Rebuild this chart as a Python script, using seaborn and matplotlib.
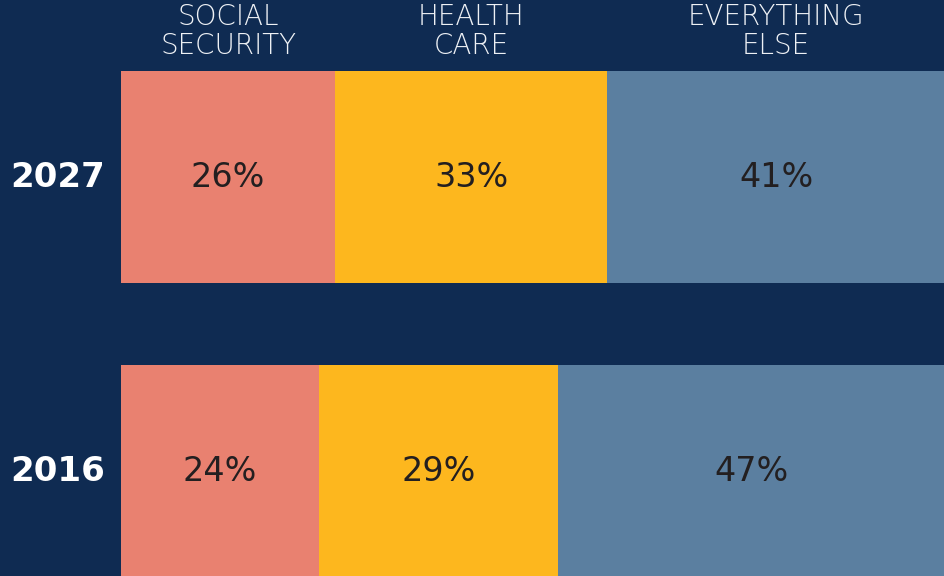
import pandas as pd
import matplotlib
matplotlib.use("Agg")
import matplotlib.pyplot as plt
import numpy as np
import seaborn as sns

years = ["2027", "2016"]
categories = ["SOCIAL\nSECURITY", "HEALTH\nCARE", "EVERYTHING\nELSE"]
social_security = [26, 24]
health_care = [33, 29]
everything_else = [41, 47]
colors = ["#e98170", "#fdb71e", "#5b7fa0"]

bg = "#0f2b52"

df = pd.DataFrame({"year": years,
                   "ss": social_security,
                   "hc": health_care,
                   "ee": everything_else})
df["cum1"] = df["ss"]
df["cum2"] = df["ss"] + df["hc"]
df["cum3"] = df["cum2"] + df["ee"]

sns.set_style("white")
plt.rcParams["font.family"] = ["DejaVu Sans"]

fig = plt.figure(figsize=(9.45, 5.76), dpi=100, facecolor=bg)
ax = fig.add_axes([121 / 945, 0, 824 / 945, 1])
ax.set_facecolor(bg)

# stacked bars: draw the running totals from the largest down
for col, c in zip(["cum3", "cum2", "cum1"], colors[::-1]):
    sns.barplot(data=df, x=col, y="year", order=years, orient="h",
                color=c, saturation=1, width=0.72, linewidth=0, ax=ax)

ax.set_xlim(0, 100)
ax.set_ylim(1.357, -0.602)
ax.set_axis_off()

# percent labels inside each segment
for i, row in df.iterrows():
    lefts = [0, row["cum1"], row["cum2"]]
    vals = [row["ss"], row["hc"], row["ee"]]
    for l, v in zip(lefts, vals):
        ax.text(l + v / 2, i, f"{v}%", ha="center", va="center",
                fontsize=24, color="#231f20")
    # year label on the left
    ax.text(-13.5, i, row["year"], ha="left", va="center", fontsize=24.5,
            fontweight="bold", color="white", clip_on=False)

# column headers over the 2027 bar
top = df.iloc[0]
for l, v, name in zip([0, top["cum1"], top["cum2"]],
                      [top["ss"], top["hc"], top["ee"]], categories):
    ax.text(l + v / 2, -0.495, name, ha="center", va="center", fontsize=20,
            fontweight="light", color="#eef1f5", linespacing=1.08)

fig.savefig("out.png", dpi=100, facecolor=bg)
